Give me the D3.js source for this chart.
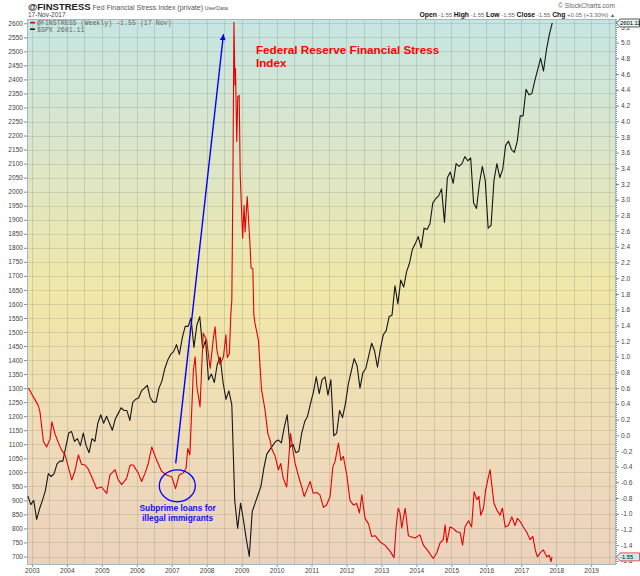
<!DOCTYPE html>
<html>
<head>
<meta charset="utf-8">
<script src="https://cdn.jsdelivr.net/npm/d3@7"></script>
<style>
  body { margin: 0; background: #fff; }
  svg { display: block; font-family: "Liberation Sans", Arial, sans-serif; }
</style>
</head>
<body>
<div id="chart"></div>
<script>
      // $SPX, one level per month (around the 20th), Nov 2002 .. Nov 2017
      var spxStart = 2002.886;
      var spxValues = [
        915, 885,
        900, 832, 870, 900, 935, 995, 985, 995, 1030, 1040, 1040, 1090,
        1140, 1145, 1110, 1120, 1095, 1140, 1095, 1070, 1120, 1110, 1175, 1205,
        1175, 1200, 1175, 1150, 1190, 1210, 1230, 1220, 1220, 1185, 1250, 1260,
        1265, 1290, 1300, 1310, 1265, 1250, 1250, 1300, 1325, 1370, 1400, 1420,
        1430, 1455, 1420, 1480, 1520, 1520, 1550, 1445, 1525, 1555, 1440, 1470,
        1330, 1350, 1320, 1385, 1410, 1320, 1260, 1290, 1240, 900, 800, 890,
        830, 760, 700, 860, 890, 920, 950, 1015, 1065, 1080, 1095, 1110,
        1115, 1105, 1160, 1205, 1090, 1100, 1070, 1075, 1140, 1180, 1200, 1245,
        1285, 1340, 1280, 1330, 1340, 1275, 1330, 1130, 1140, 1220, 1195, 1245,
        1315, 1360, 1405, 1380, 1300, 1355, 1370, 1415, 1460, 1433, 1375, 1440,
        1490, 1505, 1555, 1560, 1665, 1600, 1685, 1660, 1715, 1745, 1795, 1815,
        1840, 1800, 1870, 1865, 1885, 1960, 1975, 1985, 2010, 1890, 2050, 2070,
        2030, 2100, 2090, 2100, 2125, 2110, 2120, 1960, 1940, 2030, 2090, 2040,
        1870, 1880, 2040, 2100, 2050, 2080, 2165, 2180, 2150, 2140, 2180, 2270,
        2270, 2365, 2345, 2350, 2395, 2435, 2475, 2430, 2505, 2560, 2601.11
      ];

      // @FINSTRESS weekly as [year, value]
      var fsiData = [
        [2002.90, 0.60], [2003.04, 0.49], [2003.09, 0.45], [2003.18, 0.38], [2003.23, 0.30],
        [2003.33, -0.08], [2003.42, -0.15], [2003.52, -0.05], [2003.57, 0.17], [2003.66, 0.02],
        [2003.76, -0.10], [2003.85, -0.19], [2003.95, -0.25],
        [2004.04, -0.40], [2004.14, -0.57], [2004.23, -0.46], [2004.33, -0.25], [2004.42, -0.37],
        [2004.52, -0.38], [2004.61, -0.43], [2004.71, -0.53], [2004.85, -0.68], [2004.99, -0.66],
        [2005.14, -0.74], [2005.23, -0.51], [2005.38, -0.44], [2005.47, -0.57], [2005.57, -0.63],
        [2005.71, -0.55], [2005.81, -0.38], [2005.90, -0.38],
        [2006.04, -0.48], [2006.14, -0.59], [2006.24, -0.48], [2006.33, -0.36], [2006.43, -0.15],
        [2006.57, -0.32], [2006.71, -0.46], [2006.86, -0.51],
        [2007.00, -0.53], [2007.11, -0.68], [2007.21, -0.51], [2007.33, -0.48], [2007.41, -0.42],
        [2007.46, -0.17], [2007.52, -0.25], [2007.62, 0.83], [2007.67, 1.00], [2007.72, 0.62],
        [2007.81, 0.36], [2007.90, 1.30],
        [2008.00, 1.21], [2008.10, 0.85], [2008.19, 1.23], [2008.24, 1.38], [2008.29, 1.09],
        [2008.38, 0.90], [2008.48, 1.00], [2008.55, 1.28], [2008.59, 0.99], [2008.65, 1.04],
        [2008.69, 1.53], [2008.72, 1.72], [2008.75, 3.20], [2008.78, 5.26], [2008.81, 4.46],
        [2008.825, 4.67], [2008.86, 3.74], [2008.89, 4.31], [2008.93, 4.33], [2008.96, 3.31],
        [2009.03, 2.51], [2009.07, 2.93], [2009.10, 2.59], [2009.16, 3.04], [2009.24, 2.42],
        [2009.27, 2.13], [2009.32, 2.12], [2009.35, 1.53], [2009.38, 1.43], [2009.48, 1.21],
        [2009.57, 0.58], [2009.67, 0.32], [2009.75, 0.02], [2009.81, -0.06], [2009.86, -0.17],
        [2009.96, -0.27],
        [2010.05, -0.44], [2010.12, -0.36], [2010.19, -0.55], [2010.29, -0.66], [2010.34, -0.35],
        [2010.40, 0.02], [2010.46, -0.17], [2010.53, -0.36], [2010.62, -0.51], [2010.72, -0.66],
        [2010.79, -0.78], [2010.88, -0.68], [2010.96, -0.59],
        [2011.05, -0.74], [2011.15, -0.73], [2011.24, -0.76], [2011.34, -0.92], [2011.43, -0.89],
        [2011.53, -0.78], [2011.61, -0.40], [2011.67, -0.34], [2011.77, -0.10], [2011.84, -0.32],
        [2011.91, -0.27],
        [2012.01, -0.51], [2012.10, -0.83], [2012.20, -0.89], [2012.29, -0.87], [2012.37, -0.99],
        [2012.44, -0.76], [2012.53, -1.06], [2012.63, -1.13], [2012.72, -1.29], [2012.82, -1.28],
        [2012.96, -1.36],
        [2013.10, -1.40], [2013.25, -1.48], [2013.36, -1.56], [2013.42, -1.17], [2013.48, -0.93],
        [2013.53, -0.99], [2013.58, -1.18], [2013.68, -0.93], [2013.77, -1.28], [2013.82, -1.29],
        [2013.96, -1.31],
        [2014.10, -1.27], [2014.20, -1.40], [2014.34, -1.48], [2014.48, -1.57], [2014.58, -1.50],
        [2014.68, -1.37], [2014.77, -1.33], [2014.82, -1.14], [2014.87, -1.37], [2014.96, -1.17],
        [2015.06, -1.19], [2015.15, -1.23], [2015.25, -1.24], [2015.32, -1.40], [2015.39, -1.17],
        [2015.49, -1.09], [2015.58, -1.17], [2015.65, -0.72], [2015.73, -0.82], [2015.79, -0.78],
        [2015.84, -1.02], [2015.92, -0.93], [2015.98, -0.70],
        [2016.06, -0.53], [2016.11, -0.44], [2016.15, -0.61], [2016.22, -0.87], [2016.30, -0.95],
        [2016.39, -1.02], [2016.46, -0.93], [2016.54, -1.17], [2016.63, -1.15], [2016.73, -1.04],
        [2016.82, -1.15], [2016.89, -1.06], [2016.97, -1.10],
        [2017.06, -1.17], [2017.16, -1.24], [2017.25, -1.33], [2017.33, -1.29], [2017.40, -1.46],
        [2017.46, -1.55], [2017.54, -1.50], [2017.63, -1.46], [2017.73, -1.55], [2017.80, -1.53],
        [2017.85, -1.61], [2017.88, -1.55]
      ];

      // tick labels
      var yearTicks = d3.range(2003, 2020);
      var leftTicks = d3.range(700, 2601, 50);
      var rightTicks = d3.range(-16, 53, 2).map(function (d) { return d / 10; });

      /*
        D3.js setup code
      */
      var W = 640, H = 576;
      var plot = { left: 27, right: 616, top: 19, bottom: 565 };

      var svg = d3.select("#chart").append("svg")
        .attr("width", W)
        .attr("height", H);

      var x = d3.scaleLinear().domain([2002.86, 2019.71]).range([plot.left, plot.right]);
      var yL = d3.scaleLinear().domain([700, 2600]).range([556.5, 23.3]);
      var yR = d3.scaleLinear().domain([-1.4, 5.0]).range([545.1, 42.7]);

      var defs = svg.append("defs");
      var grad = defs.append("linearGradient")
        .attr("id", "bg").attr("x1", 0).attr("y1", 0).attr("x2", 0).attr("y2", 1);
      grad.append("stop").attr("offset", "0%").attr("stop-color", "#c6e5e2");
      grad.append("stop").attr("offset", "22%").attr("stop-color", "#d9e6cc");
      grad.append("stop").attr("offset", "50%").attr("stop-color", "#f1e7a8");
      grad.append("stop").attr("offset", "75%").attr("stop-color", "#efdcb8");
      grad.append("stop").attr("offset", "100%").attr("stop-color", "#ecd2be");

      defs.append("clipPath").attr("id", "clip")
        .append("rect")
        .attr("x", plot.left).attr("y", plot.top)
        .attr("width", plot.right - plot.left).attr("height", plot.bottom - plot.top);

      defs.append("marker")
        .attr("id", "head")
        .attr("viewBox", "0 0 10 10")
        .attr("refX", 10).attr("refY", 5)
        .attr("markerWidth", 6).attr("markerHeight", 6)
        .attr("markerUnits", "userSpaceOnUse")
        .attr("orient", "auto")
        .append("path")
        .attr("d", "M0,0L10,5L0,10Z")
        .attr("fill", "#0000ff");

      // plot background
      svg.append("rect")
        .attr("x", plot.left).attr("y", plot.top)
        .attr("width", plot.right - plot.left).attr("height", plot.bottom - plot.top)
        .attr("fill", "url(#bg)");

      // grid
      var grid = svg.append("g").attr("shape-rendering", "crispEdges");
      grid.selectAll("line.h")
        .data(leftTicks)
        .enter().append("line")
          .attr("class", "h")
          .attr("x1", plot.left).attr("x2", plot.right)
          .attr("y1", function (d) { return Math.round(yL(d)) + 0.5; })
          .attr("y2", function (d) { return Math.round(yL(d)) + 0.5; })
          .attr("stroke", "#7d8468").attr("stroke-opacity", 0.22);
      grid.selectAll("line.v")
        .data(d3.range(2003, 2019.6, 0.5))
        .enter().append("line")
          .attr("class", "v")
          .attr("y1", plot.top).attr("y2", plot.bottom)
          .attr("x1", function (d) { return Math.round(x(d)) + 0.5; })
          .attr("x2", function (d) { return Math.round(x(d)) + 0.5; })
          .attr("stroke", "#7d8468").attr("stroke-opacity", 0.25);

      // border
      svg.append("rect")
        .attr("x", plot.left + 0.5).attr("y", plot.top + 0.5)
        .attr("width", plot.right - plot.left - 1).attr("height", plot.bottom - plot.top - 1)
        .attr("fill", "none").attr("stroke", "#a3b9c1")
        .attr("shape-rendering", "crispEdges");
      svg.append("line")
        .attr("x1", plot.right + 0.5).attr("x2", plot.right + 0.5)
        .attr("y1", plot.top).attr("y2", plot.bottom)
        .attr("stroke", "#6f98aa").attr("stroke-dasharray", "1,1");

      // axes
      function styleAxis(g) {
        g.select(".domain").remove();
        g.selectAll(".tick line").attr("stroke", "#8a8a8a");
        g.selectAll(".tick text")
          .attr("fill", "#444")
          .style("font-family", "'Liberation Sans', Arial, sans-serif")
          .style("font-size", "6.6px");
      }

      svg.append("g")
        .attr("transform", "translate(" + plot.left + ",0)")
        .call(d3.axisLeft(yL).tickValues(leftTicks).tickSize(3).tickPadding(1)
          .tickFormat(d3.format("d")))
        .call(styleAxis);

      // the top and bottom right labels sit under the last-value tags
      svg.append("g")
        .attr("transform", "translate(" + plot.right + ",0)")
        .call(d3.axisRight(yR).tickValues(rightTicks).tickSize(3).tickPadding(2)
          .tickFormat(function (d) { return d3.format(".1f")(d).replace("\u2212", "-"); }))
        .call(styleAxis);

      svg.append("g")
        .attr("transform", "translate(0," + plot.bottom + ")")
        .call(d3.axisBottom(x).tickValues(yearTicks).tickSize(2).tickPadding(1)
          .tickFormat(d3.format("d")))
        .call(styleAxis);

      // series
      var spxLine = d3.line()
        .x(function (d, i) { return x(spxStart + i / 12); })
        .y(function (d) { return yL(d); });
      var fsiLine = d3.line()
        .x(function (d) { return x(d[0]); })
        .y(function (d) { return yR(d[1]); });

      var lines = svg.append("g").attr("clip-path", "url(#clip)");
      lines.append("path")
        .datum(spxValues)
        .attr("d", spxLine)
        .attr("fill", "none")
        .attr("stroke", "#161616")
        .attr("stroke-width", 1.1)
        .attr("stroke-linejoin", "round");
      lines.append("path")
        .datum(fsiData)
        .attr("d", fsiLine)
        .attr("fill", "none")
        .attr("stroke", "#e60000")
        .attr("stroke-width", 1.1)
        .attr("stroke-linejoin", "round");

      // legend inside the plot
      var legend = svg.append("g")
        .style("font-family", "'Liberation Mono', 'DejaVu Sans Mono', monospace")
        .style("font-size", "6.6px");
      legend.selectAll("rect")
        .data(["#e60000", "#222"])
        .enter().append("rect")
          .attr("x", 30).attr("width", 5).attr("height", 1.6)
          .attr("y", function (d, i) { return 21.8 + i * 6.6; })
          .attr("fill", function (d) { return d; });
      legend.selectAll("text")
        .data(["@FINSTRESS (Weekly) -1.55 (17 Nov)", "$SPX 2601.11"])
        .enter().append("text")
          .attr("x", 37)
          .attr("y", function (d, i) { return 25 + i * 6.6; })
          .attr("fill", "#666")
          .text(function (d) { return d; });

      // header
      var head = svg.append("text").attr("x", 28).attr("y", 10);
      head.append("tspan").attr("font-weight", "bold").attr("font-size", "9.5px").attr("fill", "#222")
        .text("@FINSTRESS");
      head.append("tspan").attr("font-size", "7px").attr("fill", "#555")
        .text(" Fed Financial Stress Index (private)");
      head.append("tspan").attr("font-size", "5.5px").attr("fill", "#555")
        .text("  UserData");
      svg.append("text")
        .attr("x", 28).attr("y", 17)
        .attr("font-size", "6.5px").attr("fill", "#444")
        .text("17-Nov-2017");

      svg.append("text")
        .attr("x", 615).attr("y", 8)
        .attr("text-anchor", "end")
        .attr("font-size", "6.6px").attr("fill", "#666")
        .text("\u00a9 StockCharts.com");

      var quote = svg.append("text")
        .attr("x", 615).attr("y", 17)
        .attr("text-anchor", "end");
      [["Open", " -1.55  "], ["High", " -1.55  "], ["Low", " -1.55  "],
       ["Close", " -1.55  "], ["Chg", " +0.05 (+3.30%) "]].forEach(function (p) {
        quote.append("tspan").attr("font-weight", "bold").attr("font-size", "6.8px").attr("fill", "#111").text(p[0]);
        quote.append("tspan").attr("font-size", "6px").attr("fill", "#666").text(p[1]);
      });
      quote.append("tspan").attr("font-size", "5px").attr("fill", "#2a6a2a").text("\u25b2");

      // last value tags on the right axis
      function tag(yPos, label, stroke, fill) {
        var g = svg.append("g");
        g.append("path")
          .attr("d", "M" + (plot.right + 0.5) + "," + yPos +
                     "L" + (plot.right + 4) + "," + (yPos - 4) +
                     "L" + (plot.right + 23.5) + "," + (yPos - 4) +
                     "L" + (plot.right + 23.5) + "," + (yPos + 4) +
                     "L" + (plot.right + 4) + "," + (yPos + 4) + "Z")
          .attr("fill", fill).attr("stroke", stroke).attr("stroke-width", 0.8);
        g.append("text")
          .attr("x", plot.right + 4).attr("y", yPos + 2.2)
          .attr("font-size", "5.8px").attr("fill", "#000")
          .text(label);
      }
      tag(yL(2601.11), "2601.11", "#333", "#e6f3f3");
      tag(yR(-1.55), "-1.55", "#e03030", "#c8eef0");

      // annotations
      svg.append("line")
        .attr("x1", x(2007.115)).attr("y1", yL(1032))
        .attr("x2", x(2008.48)).attr("y2", yL(2561))
        .attr("stroke", "#0000ff").attr("stroke-width", 1.4)
        .attr("marker-end", "url(#head)");

      svg.append("ellipse")
        .attr("cx", x(2007.16)).attr("cy", yL(952))
        .attr("rx", 18).attr("ry", 16)
        .attr("fill", "none").attr("stroke", "#0000ff").attr("stroke-width", 1.3);

      svg.selectAll("text.note")
        .data(["Subprime loans for", "illegal immigrants"])
        .enter().append("text")
          .attr("class", "note")
          .attr("x", x(2007.17))
          .attr("y", function (d, i) { return yL(862) + i * 10; })
          .attr("text-anchor", "middle")
          .attr("font-size", "8.4px").attr("font-weight", "bold")
          .attr("fill", "#1010ff")
          .text(function (d) { return d; });

      svg.selectAll("text.title")
        .data(["Federal Reserve Financial Stress", "Index"])
        .enter().append("text")
          .attr("class", "title")
          .attr("x", x(2009.41))
          .attr("y", function (d, i) { return yL(2492) + i * 13; })
          .attr("font-size", "11.7px").attr("font-weight", "bold")
          .attr("fill", "#ff0000")
          .text(function (d) { return d; });
</script>
</body>
</html>
